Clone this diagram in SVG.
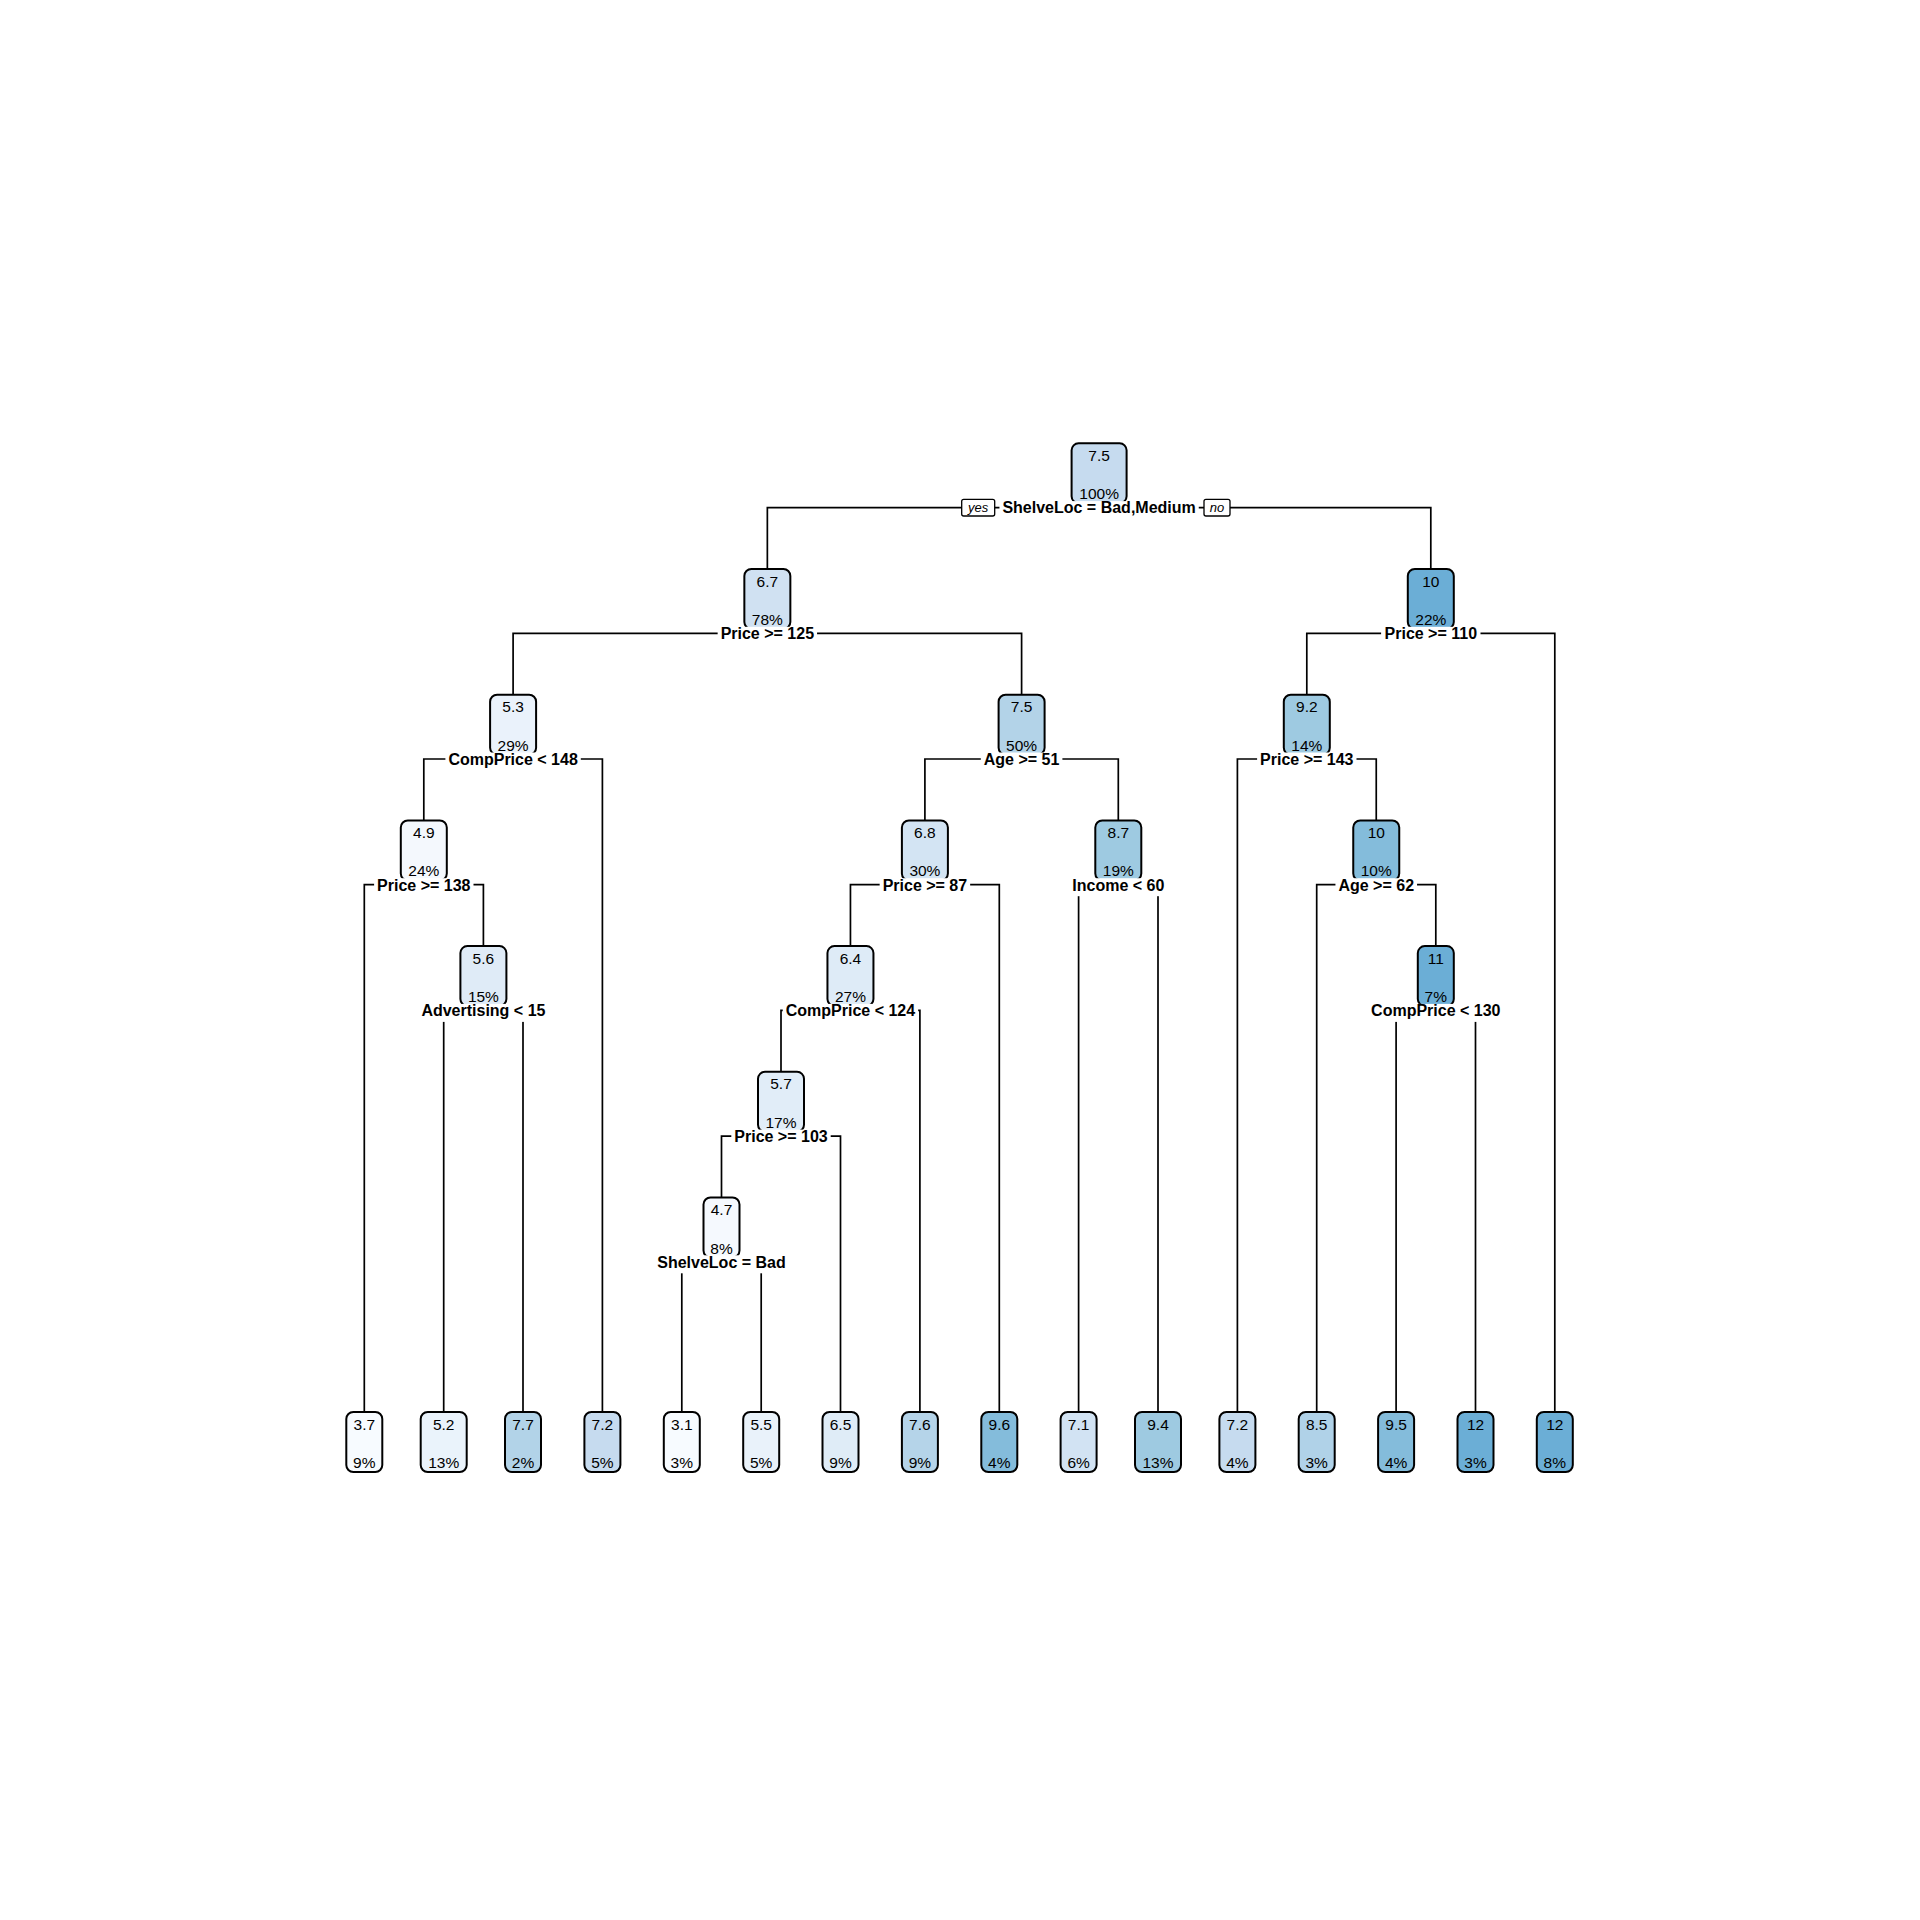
<svg xmlns="http://www.w3.org/2000/svg" width="1920" height="1920" viewBox="0 0 1920 1920">
<style>
.bg{fill:#ffffff}
.box{stroke:#000;stroke-width:2}
.v,.p{font-family:"Liberation Sans",Arial,sans-serif;font-size:15.5px;text-anchor:middle;fill:#000}
.lbl{font-family:"Liberation Sans",Arial,sans-serif;font-size:16px;font-weight:bold;text-anchor:middle;fill:#000}
.lb{fill:#fff}
.con path{fill:none;stroke:#000;stroke-width:1.7}
.yn rect{fill:#fff;stroke:#000;stroke-width:1.3}
.yn text{font-family:"Liberation Sans",Arial,sans-serif;font-size:13px;font-style:italic;text-anchor:middle;fill:#000}
</style>
<rect class="bg" x="0" y="0" width="1920" height="1920"/>
<g id="connectors" class="con">
<path d="M767.35,569 V507.6 H1430.8 V569"/>
<path d="M513.1,694.7 V633.3 H1021.6 V694.7"/>
<path d="M1306.8,694.7 V633.3 H1554.8 V1412"/>
<path d="M423.8,820.4 V759 H602.4 V1412"/>
<path d="M924.9,820.4 V759 H1118.3 V820.4"/>
<path d="M1237.4,1412 V759 H1376.25 V820.4"/>
<path d="M364.3,1412 V884.7 H483.4 V946.1"/>
<path d="M850.45,946.1 V884.7 H999.3 V1412"/>
<path d="M1078.6,1412 V884.7 H1158 V1412"/>
<path d="M1316.7,1412 V884.7 H1435.8 V946.1"/>
<path d="M443.7,1412 V1010.4 H523 V1412"/>
<path d="M781,1071.8 V1010.4 H919.9 V1412"/>
<path d="M1396.1,1412 V1010.4 H1475.5 V1412"/>
<path d="M721.5,1197.5 V1136.1 H840.5 V1412"/>
<path d="M681.8,1412 V1261.8 H761.2 V1412"/>
</g>
<g id="nodes">
<g id="node1"><rect class="box" x="1071.6" y="443.3" width="55" height="60" rx="7" fill="#c6dbef"/><text class="v" x="1099.1" y="460.8">7.5</text><text class="p" x="1099.1" y="499.3">100%</text></g>
<g id="node2"><rect class="box" x="744.35" y="569" width="46" height="60" rx="7" fill="#d0e1f2"/><text class="v" x="767.35" y="586.5">6.7</text><text class="p" x="767.35" y="625">78%</text></g>
<g id="node3"><rect class="box" x="1407.8" y="569" width="46" height="60" rx="7" fill="#6baed6"/><text class="v" x="1430.8" y="586.5">10</text><text class="p" x="1430.8" y="625">22%</text></g>
<g id="node4"><rect class="box" x="490.1" y="694.7" width="46" height="60" rx="7" fill="#eaf2fb"/><text class="v" x="513.1" y="712.2">5.3</text><text class="p" x="513.1" y="750.7">29%</text></g>
<g id="node5"><rect class="box" x="998.6" y="694.7" width="46" height="60" rx="7" fill="#b3d3e8"/><text class="v" x="1021.6" y="712.2">7.5</text><text class="p" x="1021.6" y="750.7">50%</text></g>
<g id="node6"><rect class="box" x="1283.8" y="694.7" width="46" height="60" rx="7" fill="#9ecae1"/><text class="v" x="1306.8" y="712.2">9.2</text><text class="p" x="1306.8" y="750.7">14%</text></g>
<g id="node8"><rect class="box" x="400.8" y="820.4" width="46" height="60" rx="7" fill="#f4f8fd"/><text class="v" x="423.8" y="837.9">4.9</text><text class="p" x="423.8" y="876.4">24%</text></g>
<g id="node10"><rect class="box" x="901.9" y="820.4" width="46" height="60" rx="7" fill="#d3e4f3"/><text class="v" x="924.9" y="837.9">6.8</text><text class="p" x="924.9" y="876.4">30%</text></g>
<g id="node11"><rect class="box" x="1095.3" y="820.4" width="46" height="60" rx="7" fill="#9ecae1"/><text class="v" x="1118.3" y="837.9">8.7</text><text class="p" x="1118.3" y="876.4">19%</text></g>
<g id="node13"><rect class="box" x="1353.25" y="820.4" width="46" height="60" rx="7" fill="#84bcdb"/><text class="v" x="1376.25" y="837.9">10</text><text class="p" x="1376.25" y="876.4">10%</text></g>
<g id="node17"><rect class="box" x="460.4" y="946.1" width="46" height="60" rx="7" fill="#dfebf7"/><text class="v" x="483.4" y="963.6">5.6</text><text class="p" x="483.4" y="1002.1">15%</text></g>
<g id="node20"><rect class="box" x="827.45" y="946.1" width="46" height="60" rx="7" fill="#deebf7"/><text class="v" x="850.45" y="963.6">6.4</text><text class="p" x="850.45" y="1002.1">27%</text></g>
<g id="node27"><rect class="box" x="1417.8" y="946.1" width="36" height="60" rx="7" fill="#6baed6"/><text class="v" x="1435.8" y="963.6">11</text><text class="p" x="1435.8" y="1002.1">7%</text></g>
<g id="node40"><rect class="box" x="758" y="1071.8" width="46" height="60" rx="7" fill="#e1edf8"/><text class="v" x="781" y="1089.3">5.7</text><text class="p" x="781" y="1127.8">17%</text></g>
<g id="node80"><rect class="box" x="703.5" y="1197.5" width="36" height="60" rx="7" fill="#f5f9fe"/><text class="v" x="721.5" y="1215">4.7</text><text class="p" x="721.5" y="1253.5">8%</text></g>
<g id="leaf1"><rect class="box" x="346.3" y="1412" width="36" height="60" rx="7" fill="#f7fbff"/><text class="v" x="364.3" y="1429.5">3.7</text><text class="p" x="364.3" y="1468">9%</text></g>
<g id="leaf2"><rect class="box" x="420.7" y="1412" width="46" height="60" rx="7" fill="#eaf3fb"/><text class="v" x="443.7" y="1429.5">5.2</text><text class="p" x="443.7" y="1468">13%</text></g>
<g id="leaf3"><rect class="box" x="505" y="1412" width="36" height="60" rx="7" fill="#b2d3e8"/><text class="v" x="523" y="1429.5">7.7</text><text class="p" x="523" y="1468">2%</text></g>
<g id="leaf4"><rect class="box" x="584.4" y="1412" width="36" height="60" rx="7" fill="#c6dbef"/><text class="v" x="602.4" y="1429.5">7.2</text><text class="p" x="602.4" y="1468">5%</text></g>
<g id="leaf5"><rect class="box" x="663.8" y="1412" width="36" height="60" rx="7" fill="#f7fbff"/><text class="v" x="681.8" y="1429.5">3.1</text><text class="p" x="681.8" y="1468">3%</text></g>
<g id="leaf6"><rect class="box" x="743.2" y="1412" width="36" height="60" rx="7" fill="#e9f2fa"/><text class="v" x="761.2" y="1429.5">5.5</text><text class="p" x="761.2" y="1468">5%</text></g>
<g id="leaf7"><rect class="box" x="822.5" y="1412" width="36" height="60" rx="7" fill="#dfecf7"/><text class="v" x="840.5" y="1429.5">6.5</text><text class="p" x="840.5" y="1468">9%</text></g>
<g id="leaf8"><rect class="box" x="901.9" y="1412" width="36" height="60" rx="7" fill="#b5d4e9"/><text class="v" x="919.9" y="1429.5">7.6</text><text class="p" x="919.9" y="1468">9%</text></g>
<g id="leaf9"><rect class="box" x="981.3" y="1412" width="36" height="60" rx="7" fill="#84bcdb"/><text class="v" x="999.3" y="1429.5">9.6</text><text class="p" x="999.3" y="1468">4%</text></g>
<g id="leaf10"><rect class="box" x="1060.6" y="1412" width="36" height="60" rx="7" fill="#d2e3f3"/><text class="v" x="1078.6" y="1429.5">7.1</text><text class="p" x="1078.6" y="1468">6%</text></g>
<g id="leaf11"><rect class="box" x="1135" y="1412" width="46" height="60" rx="7" fill="#9ecae1"/><text class="v" x="1158" y="1429.5">9.4</text><text class="p" x="1158" y="1468">13%</text></g>
<g id="leaf12"><rect class="box" x="1219.4" y="1412" width="36" height="60" rx="7" fill="#c6dbef"/><text class="v" x="1237.4" y="1429.5">7.2</text><text class="p" x="1237.4" y="1468">4%</text></g>
<g id="leaf13"><rect class="box" x="1298.7" y="1412" width="36" height="60" rx="7" fill="#b0d2e8"/><text class="v" x="1316.7" y="1429.5">8.5</text><text class="p" x="1316.7" y="1468">3%</text></g>
<g id="leaf14"><rect class="box" x="1378.1" y="1412" width="36" height="60" rx="7" fill="#84bcdb"/><text class="v" x="1396.1" y="1429.5">9.5</text><text class="p" x="1396.1" y="1468">4%</text></g>
<g id="leaf15"><rect class="box" x="1457.5" y="1412" width="36" height="60" rx="7" fill="#6baed6"/><text class="v" x="1475.5" y="1429.5">12</text><text class="p" x="1475.5" y="1468">3%</text></g>
<g id="leaf16"><rect class="box" x="1536.8" y="1412" width="36" height="60" rx="7" fill="#6baed6"/><text class="v" x="1554.8" y="1429.5">12</text><text class="p" x="1554.8" y="1468">8%</text></g>
</g>
<g id="split-labels">
<rect class="lb" x="999.45" y="501.1" width="199.3" height="18"/><text class="lbl" x="1099.1" y="513.4">ShelveLoc = Bad,Medium</text>
<rect class="lb" x="717.65" y="626.8" width="99.4" height="18"/><text class="lbl" x="767.35" y="639.1">Price &gt;= 125</text>
<rect class="lb" x="1381.1" y="626.8" width="99.4" height="18"/><text class="lbl" x="1430.8" y="639.1">Price &gt;= 110</text>
<rect class="lb" x="445.4" y="752.5" width="135.4" height="18"/><text class="lbl" x="513.1" y="764.8">CompPrice &lt; 148</text>
<rect class="lb" x="980.8" y="752.5" width="81.6" height="18"/><text class="lbl" x="1021.6" y="764.8">Age &gt;= 51</text>
<rect class="lb" x="1257.1" y="752.5" width="99.4" height="18"/><text class="lbl" x="1306.8" y="764.8">Price &gt;= 143</text>
<rect class="lb" x="374.1" y="878.2" width="99.4" height="18"/><text class="lbl" x="423.8" y="890.5">Price &gt;= 138</text>
<rect class="lb" x="879.65" y="878.2" width="90.5" height="18"/><text class="lbl" x="924.9" y="890.5">Price &gt;= 87</text>
<rect class="lb" x="1069.3" y="878.2" width="98" height="18"/><text class="lbl" x="1118.3" y="890.5">Income &lt; 60</text>
<rect class="lb" x="1335.45" y="878.2" width="81.6" height="18"/><text class="lbl" x="1376.25" y="890.5">Age &gt;= 62</text>
<rect class="lb" x="418.4" y="1003.9" width="130" height="18"/><text class="lbl" x="483.4" y="1016.2">Advertising &lt; 15</text>
<rect class="lb" x="782.75" y="1003.9" width="135.4" height="18"/><text class="lbl" x="850.45" y="1016.2">CompPrice &lt; 124</text>
<rect class="lb" x="1368.1" y="1003.9" width="135.4" height="18"/><text class="lbl" x="1435.8" y="1016.2">CompPrice &lt; 130</text>
<rect class="lb" x="731.3" y="1129.6" width="99.4" height="18"/><text class="lbl" x="781" y="1141.9">Price &gt;= 103</text>
<rect class="lb" x="654.25" y="1255.3" width="134.5" height="18"/><text class="lbl" x="721.5" y="1267.6">ShelveLoc = Bad</text>
</g>
<g id="yes-no" class="yn">
<rect x="961.7" y="499.3" width="33" height="16.7" rx="2"/><text x="978.2" y="512">yes</text>
<rect x="1204" y="499.3" width="26" height="16.7" rx="2"/><text x="1217" y="512">no</text>
</g>
</svg>
